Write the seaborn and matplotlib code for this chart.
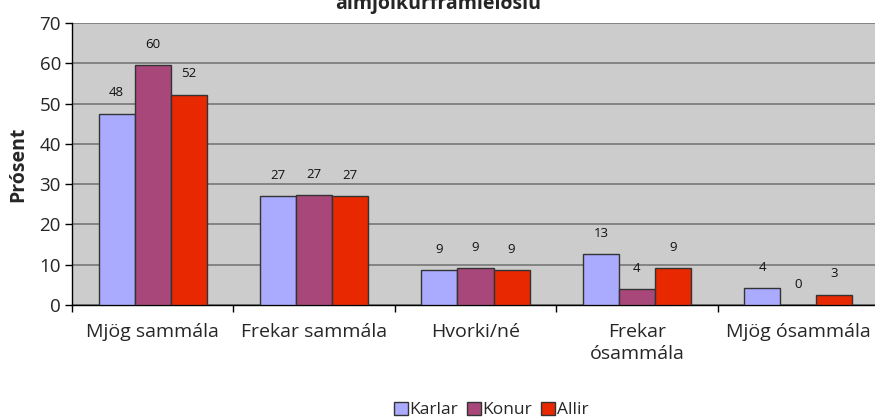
import matplotlib
matplotlib.use("Agg")
import matplotlib.pyplot as plt
import seaborn as sns
import pandas as pd
import numpy as np
from matplotlib.patches import Patch

categories = ["Mjög sammála", "Frekar sammála", "Hvorki/né", "Frekar\nósammála", "Mjög ósammála"]
groups = ["Karlar", "Konur", "Allir"]
karlar = [47.5, 27.0, 8.6, 12.6, 4.2]
konur = [59.6, 27.3, 9.2, 4.0, 0.0]
allir = [52.2, 27.0, 8.7, 9.2, 2.6]
labels_karlar = ["48", "27", "9", "13", "4"]
labels_konur = ["60", "27", "9", "4", "0"]
labels_allir = ["52", "27", "9", "9", "3"]
colors = {"Karlar": "#AAAAFF", "Konur": "#A8487A", "Allir": "#E82800"}
title = "almjólkurframleiðslu"

df = pd.DataFrame({
    "cat": categories * 3,
    "grp": ["Karlar"] * 5 + ["Konur"] * 5 + ["Allir"] * 5,
    "val": karlar + konur + allir,
})
labels = {"Karlar": labels_karlar, "Konur": labels_konur, "Allir": labels_allir}

sns.set_theme(style="white")
plt.rcParams["font.family"] = ["Open Sans", "DejaVu Sans"]

fig = plt.figure(figsize=(8.75, 4.19), dpi=100)
ax = fig.add_axes([72 / 875, 1 - 305 / 419, 807 / 875, 282 / 419])
ax.set_facecolor("#CCCCCC")

sns.barplot(data=df, x="cat", y="val", hue="grp", order=categories, hue_order=groups,
            palette=colors, saturation=1, width=0.67, gap=0, edgecolor="#333333", linewidth=1,
            ax=ax, legend=False, zorder=3)

for cont, g in zip(ax.containers, groups):
    for bar, lab in zip(cont, labels[g]):
        ax.annotate(lab, (bar.get_x() + bar.get_width() / 2, bar.get_height()),
                    xytext=(0, 15), textcoords="offset points", ha="center", va="center",
                    fontsize=9.5, color="#111111")

ax.set_ylim(0, 70)
ax.set_xlim(-0.5, 4.5)
ax.set_yticks(range(0, 71, 10))
ax.yaxis.grid(True, color="#777777", linewidth=1.2, zorder=0)
ax.set_axisbelow(True)
ax.tick_params(axis="y", direction="out", length=5, width=1, color="black", labelsize=13.5, pad=3, left=True)
ax.set_xticks(range(5))
ax.set_xticklabels(categories, fontsize=14, linespacing=1.3)
ax.tick_params(axis="x", length=0, pad=13)
ax.set_xticks(np.arange(-0.5, 5, 1), minor=True)
ax.tick_params(axis="x", which="minor", direction="out", length=5, width=1, color="black", bottom=True)

for s in ["top", "right"]:
    ax.spines[s].set_visible(False)
ax.spines["left"].set_color("black")
ax.spines["bottom"].set_color("black")
ax.spines["left"].set_linewidth(1)
ax.spines["bottom"].set_linewidth(1)
ax.set_xlabel("")
ax.set_ylabel("Prósent", fontsize=14, fontweight="bold", labelpad=8)

handles = [Patch(facecolor=colors[g], edgecolor="#333333", linewidth=1) for g in groups]
fig.legend(handles, groups, loc="center", bbox_to_anchor=(491 / 875, 1 - 410 / 419), ncol=3,
           frameon=False, fontsize=12.5, handlelength=0.8, handleheight=0.8, handletextpad=0.1,
           columnspacing=0.5, borderpad=0)

fig.text(438 / 875, 1 - 9 / 419, title, ha="center", va="baseline", fontsize=14, fontweight="bold")

fig.savefig("out.png", dpi=100)
